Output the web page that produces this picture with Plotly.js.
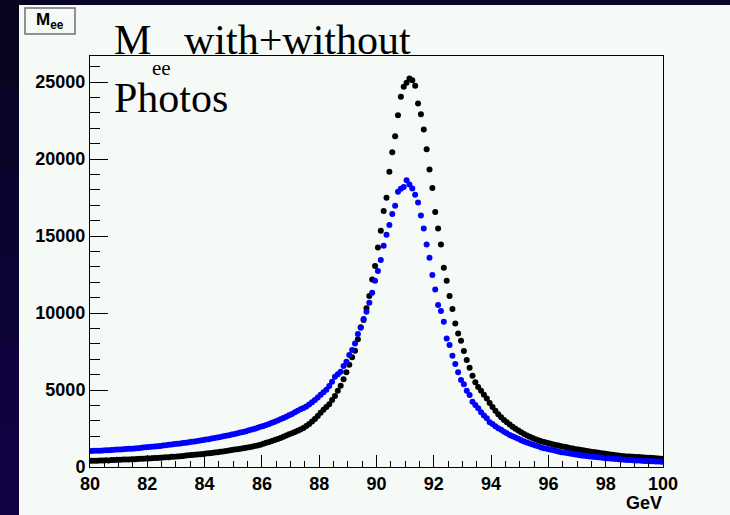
<!DOCTYPE html>
<html>
<head>
<meta charset="utf-8">
<script src="https://cdn.plot.ly/plotly-3.0.1.min.js"></script>
<style>
html,body{margin:0;padding:0;background:#0a0528;}
#chart{width:730px;height:515px;}
</style>
</head>
<body>
<div id="chart"></div>
<script>
// Histogram definition: 200 bins from 80 to 100 GeV
const binLow = 80;
const binWidth = 0.1;

// M_ee without Photos (black)
const withoutPhotos = [
  400,410,405,420,430,440,430,450,460,470,
  470,480,490,490,500,510,520,530,540,550,
  560,570,580,590,600,610,630,640,660,670,
  690,700,720,740,760,780,790,810,830,850,
  870,890,910,940,960,990,1010,1040,1070,1100,
  1130,1160,1190,1220,1250,1290,1320,1360,1400,1450,
  1510,1570,1630,1690,1750,1820,1890,1960,2040,2120,
  2200,2280,2360,2440,2540,2660,2800,2950,3120,3320,
  3520,3720,3900,4071,4350,4610,4955,5280,5695,6149,
  6643,7123,7552,8292,9071,9545,10305,11104,12188,13052,
  14266,15344,16623,17487,19175,20455,21494,22857,24045,24695,
  24970,25240,25130,24760,23617,22922,21929,20649,19331,18117,
  16558,15500,14461,12942,12097,11104,10260,9329,8680,8203,
  7532,6948,6450,5930,5500,5200,4950,4700,4450,4150,
  3900,3650,3420,3230,3052,2900,2760,2620,2480,2370,
  2260,2150,2050,1960,1880,1810,1740,1680,1620,1570,
  1520,1470,1430,1390,1350,1320,1280,1240,1200,1160,
  1130,1104,1070,1040,1010,980,955,930,890,870,
  845,815,790,765,740,714,700,690,680,665,
  655,645,630,620,605,595,580,570,555,540
];

// M_ee with Photos (blue)
const withPhotos = [
  1040,1050,1060,1060,1080,1090,1090,1110,1120,1130,
  1140,1150,1170,1180,1190,1200,1220,1240,1260,1280,
  1300,1320,1330,1350,1370,1390,1410,1440,1460,1490,
  1510,1530,1560,1580,1610,1640,1660,1690,1720,1750,
  1780,1810,1850,1880,1920,1950,1990,2030,2070,2110,
  2150,2190,2240,2280,2330,2380,2430,2490,2550,2610,
  2670,2730,2800,2870,2940,3020,3100,3180,3270,3360,
  3450,3550,3650,3745,3840,3930,4060,4200,4350,4520,
  4700,4860,5020,5270,5540,5866,6030,6190,6558,6840,
  7273,7597,8030,8636,9047,9610,10086,10670,11320,12100,
  12727,13440,14370,15084,15714,16429,16970,17879,18074,18182,
  18636,18355,18095,17684,17186,16342,15500,14459,13600,12468,
  11537,10519,10130,9437,8355,7922,7230,6688,6150,5650,
  5370,4955,4675,4240,4020,3810,3560,3350,3160,2900,
  2790,2650,2510,2420,2290,2190,2078,2000,1920,1840,
  1740,1660,1590,1530,1460,1400,1340,1270,1220,1180,
  1140,1100,1060,1010,960,935,905,875,845,815,
  785,755,730,710,690,670,650,630,610,590,
  570,555,540,520,505,490,475,460,450,440,
  425,415,400,392,385,378,370,360,352,345
];

const xTickVals = [80,82,84,86,88,90,92,94,96,98,100];
const yTickVals = [0,5000,10000,15000,20000,25000];
const titleParts = ["M", "ee", "with+without", "Photos"];
const boxLabel = "<b>M<sub>ee</sub></b>";
const xUnit = "GeV";

const binCenters = withoutPhotos.map((_, i) => +(binLow + binWidth * (i + 0.5)).toFixed(3));

// geometry (pixels)
const W = 730, H = 515;
const L = 90, R = 67, T = 56, B = 48;
const PW = W - L - R, PH = H - T - B;
const px = v => (v - L) / PW;
const py = v => (T + PH - v) / PH;

const tickFont = {family: "Liberation Sans, Arial, sans-serif", size: 18, color: "#000", weight: "bold"};
const serif = "Liberation Serif, Times New Roman, serif";

const traces = [
  {
    x: binCenters, y: withoutPhotos, type: "scatter", mode: "markers",
    marker: {color: "#000000", size: 6, symbol: "circle"},
    hoverinfo: "skip"
  },
  {
    x: binCenters, y: withPhotos, type: "scatter", mode: "markers",
    marker: {color: "#0000ff", size: 6, symbol: "circle"},
    hoverinfo: "skip"
  }
];

// dark left strip with a slight vertical gradient
const stripColors = ["#08061f", "#0a0528", "#0c0430", "#0e0337", "#10023d", "#120243"];
const shapes = [];
stripColors.forEach((c, k) => {
  const y0 = k * H / stripColors.length, y1 = (k + 1) * H / stripColors.length + 1;
  shapes.push({type: "rect", xref: "paper", yref: "paper", layer: "below",
    x0: px(-1), x1: px(19), y0: py(y1), y1: py(y0),
    fillcolor: c, line: {width: 0}});
});
shapes.push(
  // white canvas panel
  {type: "rect", xref: "paper", yref: "paper", layer: "below",
   x0: px(19), x1: px(731), y0: py(516), y1: py(5),
   fillcolor: "#f5faf7", line: {width: 0}},
  // histogram name box
  {type: "rect", xref: "paper", yref: "paper", layer: "above",
   x0: px(25), x1: px(75), y0: py(34), y1: py(8),
   fillcolor: "#f5faf7", line: {color: "#707070", width: 1.5}}
);

const annotations = [
  {text: titleParts[0], xref: "paper", yref: "paper", x: px(112), y: py(40),
   xanchor: "left", yanchor: "middle", showarrow: false,
   font: {family: serif, size: 42, color: "#000"}},
  {text: titleParts[1], xref: "paper", yref: "paper", x: px(150), y: py(68),
   xanchor: "left", yanchor: "middle", showarrow: false,
   font: {family: serif, size: 21, color: "#000"}},
  {text: titleParts[2], xref: "paper", yref: "paper", x: px(182), y: py(40),
   xanchor: "left", yanchor: "middle", showarrow: false,
   font: {family: serif, size: 42, color: "#000"}},
  {text: titleParts[3], xref: "paper", yref: "paper", x: px(112), y: py(98),
   xanchor: "left", yanchor: "middle", showarrow: false,
   font: {family: serif, size: 42, color: "#000"}},
  {text: boxLabel, xref: "paper", yref: "paper", x: px(50), y: py(21),
   xanchor: "center", yanchor: "middle", showarrow: false,
   font: {family: "Liberation Sans, Arial, sans-serif", size: 17, color: "#000"}},
  {text: "<b>" + xUnit + "</b>", xref: "paper", yref: "paper", x: px(664), y: py(503),
   xanchor: "right", yanchor: "middle", showarrow: false,
   font: {family: "Liberation Sans, Arial, sans-serif", size: 18, color: "#000"}}
];

const layout = {
  width: W, height: H,
  margin: {l: L, r: R, t: T, b: B, pad: 0},
  paper_bgcolor: "#0a0528",
  plot_bgcolor: "#f5faf7",
  showlegend: false,
  xaxis: {
    range: [80, 100], tickvals: xTickVals, ticktext: xTickVals.map(String),
    ticks: "inside", ticklen: 12, tickwidth: 1, tickcolor: "#000",
    minor: {dtick: 0.5, ticks: "inside", ticklen: 6, tickwidth: 1, tickcolor: "#000"},
    showline: true, linecolor: "#000", linewidth: 1, mirror: true,
    showgrid: false, zeroline: false, tickfont: tickFont, fixedrange: true
  },
  yaxis: {
    range: [0, 26700], tickvals: yTickVals, ticktext: yTickVals.map(String),
    ticks: "inside", ticklen: 18, tickwidth: 1, tickcolor: "#000",
    minor: {dtick: 1000, ticks: "inside", ticklen: 10, tickwidth: 1, tickcolor: "#000"},
    showline: true, linecolor: "#000", linewidth: 1, mirror: true,
    showgrid: false, zeroline: false, tickfont: tickFont, fixedrange: true
  },
  shapes: shapes,
  annotations: annotations
};

Plotly.newPlot("chart", traces, layout, {displayModeBar: false, staticPlot: true});
</script>
</body>
</html>
